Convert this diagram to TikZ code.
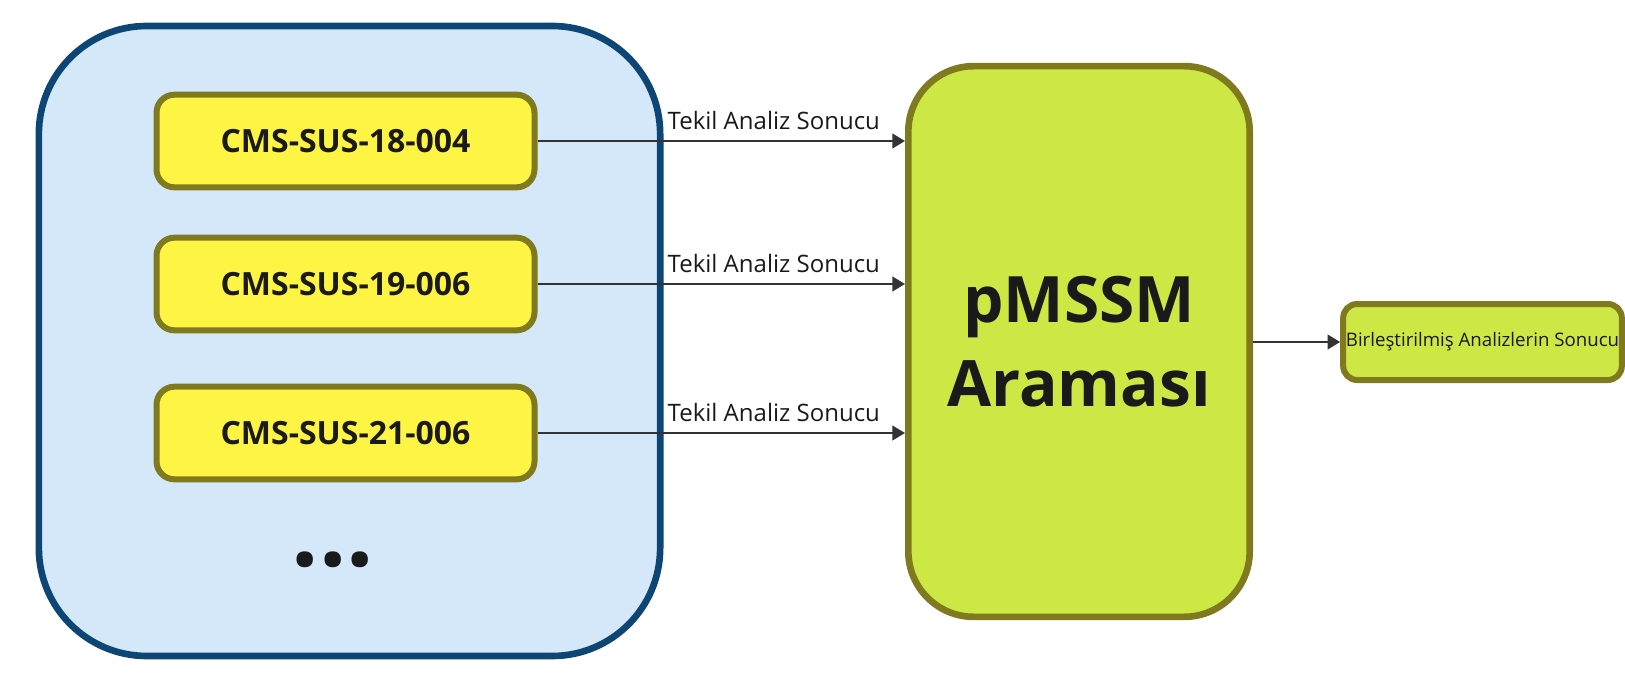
\documentclass[tikz,border=0pt]{standalone}
\usepackage{fontspec}
\setmainfont{Open Sans}
\usetikzlibrary{arrows.meta}
\definecolor{bluefill}{HTML}{D4E8F9}
\definecolor{blueline}{HTML}{0D4675}
\definecolor{yellowfill}{HTML}{FEF443}
\definecolor{oliveline}{HTML}{7F7A1E}
\definecolor{greenfill}{HTML}{CDE744}
\definecolor{textdark}{HTML}{1A1A1A}
\definecolor{arrowcol}{HTML}{333333}
\tikzset{
  groupbox/.style={draw=blueline, fill=bluefill, line width=5pt, rounded corners=81pt,
    minimum width=466pt, minimum height=472.5pt, inner sep=0pt},
  studybox/.style={draw=oliveline, fill=yellowfill, line width=4.5pt, rounded corners=13.5pt,
    minimum width=283.5pt, minimum height=69.5pt, inner sep=0pt, text=textdark,
    font=\fontsize{24}{28}\selectfont\bfseries},
  searchbox/.style={draw=oliveline, fill=greenfill, line width=5pt, rounded corners=49pt,
    minimum width=256pt, minimum height=413pt, inner sep=0pt, text=textdark, align=center,
    font=\fontsize{48}{63}\selectfont\bfseries},
  resultbox/.style={draw=oliveline, fill=greenfill, line width=4.5pt, rounded corners=10.5pt,
    minimum width=209pt, minimum height=57pt, inner sep=0pt, text=textdark,
    font=\fontsize{14}{16}\selectfont},
  flow/.style={draw=arrowcol, line width=1.6pt, -{Triangle[length=9.5pt,width=11pt]}},
  flowlabel/.style={anchor=south, inner sep=0pt, yshift=8pt, text=textdark,
    font=\fontsize{18}{22}\selectfont}
}
\begin{document}
\begin{tikzpicture}[x=0.75pt,y=-0.75pt]
\useasboundingbox (0,0) rectangle (1625,681);
\node[groupbox] (grp) at (349.5,341) {};
\node[studybox] (s1) at (345.5,141) {CMS-SUS-18-004};
\node[studybox] (s2) at (345.5,284) {CMS-SUS-19-006};
\node[studybox] (s3) at (345.5,433) {CMS-SUS-21-006};
\node[text=textdark, font=\fontsize{72}{72}\selectfont\bfseries, inner sep=0pt] (dots) at (333,560) {...};
\node[searchbox] (srch) at (1079,341.5) {pMSSM\\Araması};
\node[resultbox] (res) at (1482.5,342) {Birleştirilmiş Analizlerin Sonucu};
\draw[flow] (s1.east) -- node[pos=0.643, flowlabel] {Tekil Analiz Sonucu} (s1.east -| srch.west);
\draw[flow] (s2.east) -- node[pos=0.643, flowlabel] {Tekil Analiz Sonucu} (s2.east -| srch.west);
\draw[flow] (s3.east) -- node[pos=0.643, flowlabel] {Tekil Analiz Sonucu} (s3.east -| srch.west);
\draw[flow] (res.west -| srch.east) -- (res.west);
\end{tikzpicture}
\end{document}
